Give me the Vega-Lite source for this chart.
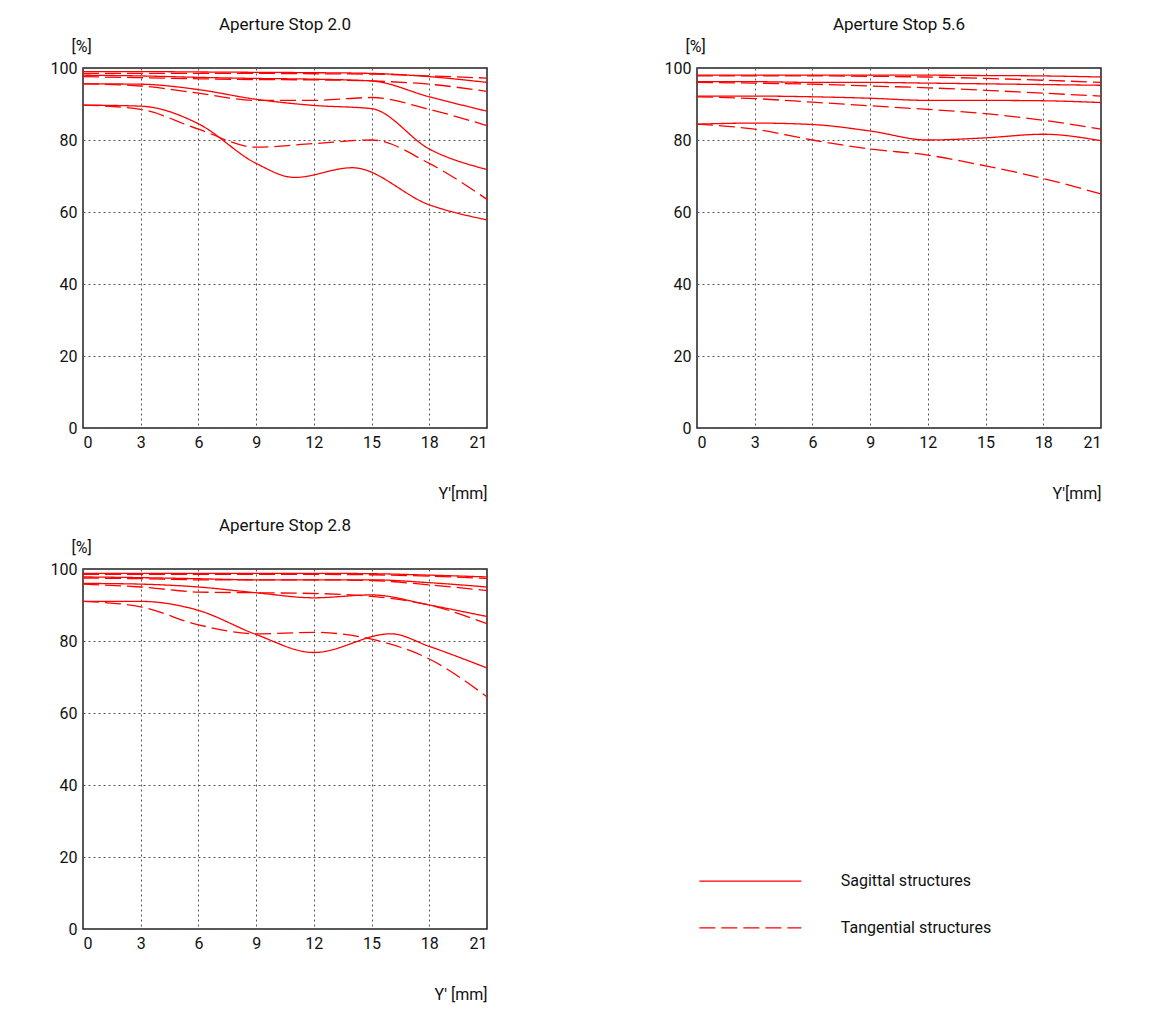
{
  "$schema": "https://vega.github.io/schema/vega-lite/v6.json",
  "padding": {"left": 49, "top": 15, "right": 5, "bottom": 5},
  "config": {
    "font": "Roboto",
    "view": {"stroke": "#222", "strokeWidth": 1.5},
    "title": {"fontSize": 17, "fontWeight": "normal", "color": "#111", "offset": 4},
    "axis": {
      "labelFontSize": 16, "labelColor": "#111", "titleFontSize": 16, "titleFontWeight": "normal",
      "titleColor": "#111", "grid": true, "gridColor": "#555", "gridDash": [2, 3], "gridWidth": 1,
      "domain": false, "ticks": false, "labelPadding": 6
    }
  },
  "datasets": {
    "mtf": [
      {"p":1,"c":"A","t":"S","x":0,"y":99},{"p":1,"c":"A","t":"S","x":3,"y":99},{"p":1,"c":"A","t":"S","x":6,"y":98.9},{"p":1,"c":"A","t":"S","x":9,"y":98.8},{"p":1,"c":"A","t":"S","x":12,"y":98.7},{"p":1,"c":"A","t":"S","x":15,"y":98.5},{"p":1,"c":"A","t":"S","x":18,"y":97.6},{"p":1,"c":"A","t":"S","x":21,"y":96},
      {"p":1,"c":"A","t":"T","x":0,"y":98.5},{"p":1,"c":"A","t":"T","x":3,"y":98.5},{"p":1,"c":"A","t":"T","x":6,"y":98.5},{"p":1,"c":"A","t":"T","x":9,"y":98.5},{"p":1,"c":"A","t":"T","x":12,"y":98.4},{"p":1,"c":"A","t":"T","x":15,"y":98.3},{"p":1,"c":"A","t":"T","x":18,"y":97.8},{"p":1,"c":"A","t":"T","x":21,"y":97.2},
      {"p":1,"c":"B","t":"S","x":0,"y":98},{"p":1,"c":"B","t":"S","x":3,"y":97.8},{"p":1,"c":"B","t":"S","x":6,"y":97.4},{"p":1,"c":"B","t":"S","x":9,"y":97.1},{"p":1,"c":"B","t":"S","x":12,"y":96.9},{"p":1,"c":"B","t":"S","x":15,"y":96.4},{"p":1,"c":"B","t":"S","x":18,"y":92},{"p":1,"c":"B","t":"S","x":21,"y":88},
      {"p":1,"c":"B","t":"T","x":0,"y":97.6},{"p":1,"c":"B","t":"T","x":3,"y":97.3},{"p":1,"c":"B","t":"T","x":6,"y":97},{"p":1,"c":"B","t":"T","x":9,"y":96.8},{"p":1,"c":"B","t":"T","x":12,"y":96.7},{"p":1,"c":"B","t":"T","x":15,"y":96.4},{"p":1,"c":"B","t":"T","x":18,"y":95.5},{"p":1,"c":"B","t":"T","x":21,"y":93.5},
      {"p":1,"c":"C","t":"S","x":0,"y":95.6},{"p":1,"c":"C","t":"S","x":3,"y":95.5},{"p":1,"c":"C","t":"S","x":6,"y":94},{"p":1,"c":"C","t":"S","x":9,"y":91.3},{"p":1,"c":"C","t":"S","x":12,"y":89.6},{"p":1,"c":"C","t":"S","x":15,"y":88.7},{"p":1,"c":"C","t":"S","x":18,"y":77.5},{"p":1,"c":"C","t":"S","x":21,"y":71.8},
      {"p":1,"c":"C","t":"T","x":0,"y":95.6},{"p":1,"c":"C","t":"T","x":3,"y":95},{"p":1,"c":"C","t":"T","x":6,"y":93},{"p":1,"c":"C","t":"T","x":9,"y":91},{"p":1,"c":"C","t":"T","x":12,"y":91},{"p":1,"c":"C","t":"T","x":15,"y":91.8},{"p":1,"c":"C","t":"T","x":18,"y":88.5},{"p":1,"c":"C","t":"T","x":21,"y":84},
      {"p":1,"c":"D","t":"S","x":0,"y":89.7},{"p":1,"c":"D","t":"S","x":3,"y":89.4},{"p":1,"c":"D","t":"S","x":6,"y":84.5},{"p":1,"c":"D","t":"S","x":9,"y":73.5},{"p":1,"c":"D","t":"S","x":11,"y":69.6},{"p":1,"c":"D","t":"S","x":14,"y":72.3},{"p":1,"c":"D","t":"S","x":18,"y":62},{"p":1,"c":"D","t":"S","x":21,"y":57.8},
      {"p":1,"c":"D","t":"T","x":0,"y":89.7},{"p":1,"c":"D","t":"T","x":3,"y":88.5},{"p":1,"c":"D","t":"T","x":6,"y":83},{"p":1,"c":"D","t":"T","x":9,"y":78},{"p":1,"c":"D","t":"T","x":12,"y":79},{"p":1,"c":"D","t":"T","x":15,"y":80},{"p":1,"c":"D","t":"T","x":18,"y":73.5},{"p":1,"c":"D","t":"T","x":21,"y":63.5},

      {"p":2,"c":"A","t":"S","x":0,"y":98},{"p":2,"c":"A","t":"S","x":3,"y":98},{"p":2,"c":"A","t":"S","x":6,"y":98},{"p":2,"c":"A","t":"S","x":9,"y":98},{"p":2,"c":"A","t":"S","x":12,"y":98},{"p":2,"c":"A","t":"S","x":15,"y":97.9},{"p":2,"c":"A","t":"S","x":18,"y":97.8},{"p":2,"c":"A","t":"S","x":21,"y":97.5},
      {"p":2,"c":"A","t":"T","x":0,"y":97.8},{"p":2,"c":"A","t":"T","x":3,"y":97.8},{"p":2,"c":"A","t":"T","x":6,"y":97.8},{"p":2,"c":"A","t":"T","x":9,"y":97.7},{"p":2,"c":"A","t":"T","x":12,"y":97.5},{"p":2,"c":"A","t":"T","x":15,"y":97.1},{"p":2,"c":"A","t":"T","x":18,"y":96.6},{"p":2,"c":"A","t":"T","x":21,"y":96},
      {"p":2,"c":"B","t":"S","x":0,"y":96.2},{"p":2,"c":"B","t":"S","x":3,"y":96.2},{"p":2,"c":"B","t":"S","x":6,"y":96},{"p":2,"c":"B","t":"S","x":9,"y":96},{"p":2,"c":"B","t":"S","x":12,"y":95.8},{"p":2,"c":"B","t":"S","x":15,"y":95.6},{"p":2,"c":"B","t":"S","x":18,"y":95.4},{"p":2,"c":"B","t":"S","x":21,"y":95.2},
      {"p":2,"c":"B","t":"T","x":0,"y":96},{"p":2,"c":"B","t":"T","x":3,"y":95.8},{"p":2,"c":"B","t":"T","x":6,"y":95.5},{"p":2,"c":"B","t":"T","x":9,"y":95},{"p":2,"c":"B","t":"T","x":12,"y":94.5},{"p":2,"c":"B","t":"T","x":15,"y":93.8},{"p":2,"c":"B","t":"T","x":18,"y":93},{"p":2,"c":"B","t":"T","x":21,"y":92.2},
      {"p":2,"c":"C","t":"S","x":0,"y":92.2},{"p":2,"c":"C","t":"S","x":3,"y":92.2},{"p":2,"c":"C","t":"S","x":6,"y":92},{"p":2,"c":"C","t":"S","x":9,"y":91.6},{"p":2,"c":"C","t":"S","x":12,"y":91},{"p":2,"c":"C","t":"S","x":15,"y":91},{"p":2,"c":"C","t":"S","x":18,"y":90.9},{"p":2,"c":"C","t":"S","x":21,"y":90.4},
      {"p":2,"c":"C","t":"T","x":0,"y":92},{"p":2,"c":"C","t":"T","x":3,"y":91.5},{"p":2,"c":"C","t":"T","x":6,"y":90.5},{"p":2,"c":"C","t":"T","x":9,"y":89.5},{"p":2,"c":"C","t":"T","x":12,"y":88.5},{"p":2,"c":"C","t":"T","x":15,"y":87.3},{"p":2,"c":"C","t":"T","x":18,"y":85.5},{"p":2,"c":"C","t":"T","x":21,"y":83},
      {"p":2,"c":"D","t":"S","x":0,"y":84.4},{"p":2,"c":"D","t":"S","x":3,"y":84.7},{"p":2,"c":"D","t":"S","x":6,"y":84.3},{"p":2,"c":"D","t":"S","x":9,"y":82.5},{"p":2,"c":"D","t":"S","x":12,"y":80},{"p":2,"c":"D","t":"S","x":15,"y":80.6},{"p":2,"c":"D","t":"S","x":18,"y":81.6},{"p":2,"c":"D","t":"S","x":21,"y":79.8},
      {"p":2,"c":"D","t":"T","x":0,"y":84.4},{"p":2,"c":"D","t":"T","x":3,"y":83},{"p":2,"c":"D","t":"T","x":6,"y":80},{"p":2,"c":"D","t":"T","x":9,"y":77.5},{"p":2,"c":"D","t":"T","x":12,"y":75.8},{"p":2,"c":"D","t":"T","x":15,"y":72.8},{"p":2,"c":"D","t":"T","x":18,"y":69.3},{"p":2,"c":"D","t":"T","x":21,"y":65},

      {"p":3,"c":"A","t":"S","x":0,"y":98.8},{"p":3,"c":"A","t":"S","x":3,"y":98.8},{"p":3,"c":"A","t":"S","x":6,"y":98.8},{"p":3,"c":"A","t":"S","x":9,"y":98.8},{"p":3,"c":"A","t":"S","x":12,"y":98.8},{"p":3,"c":"A","t":"S","x":15,"y":98.7},{"p":3,"c":"A","t":"S","x":18,"y":98.3},{"p":3,"c":"A","t":"S","x":21,"y":97.8},
      {"p":3,"c":"A","t":"T","x":0,"y":98.5},{"p":3,"c":"A","t":"T","x":3,"y":98.5},{"p":3,"c":"A","t":"T","x":6,"y":98.5},{"p":3,"c":"A","t":"T","x":9,"y":98.5},{"p":3,"c":"A","t":"T","x":12,"y":98.5},{"p":3,"c":"A","t":"T","x":15,"y":98.4},{"p":3,"c":"A","t":"T","x":18,"y":98},{"p":3,"c":"A","t":"T","x":21,"y":97.4},
      {"p":3,"c":"B","t":"S","x":0,"y":97.8},{"p":3,"c":"B","t":"S","x":3,"y":97.6},{"p":3,"c":"B","t":"S","x":6,"y":97.3},{"p":3,"c":"B","t":"S","x":9,"y":97},{"p":3,"c":"B","t":"S","x":12,"y":97},{"p":3,"c":"B","t":"S","x":15,"y":97},{"p":3,"c":"B","t":"S","x":18,"y":96.2},{"p":3,"c":"B","t":"S","x":21,"y":95},
      {"p":3,"c":"B","t":"T","x":0,"y":97.5},{"p":3,"c":"B","t":"T","x":3,"y":97.3},{"p":3,"c":"B","t":"T","x":6,"y":97},{"p":3,"c":"B","t":"T","x":9,"y":97},{"p":3,"c":"B","t":"T","x":12,"y":97},{"p":3,"c":"B","t":"T","x":15,"y":96.8},{"p":3,"c":"B","t":"T","x":18,"y":95.6},{"p":3,"c":"B","t":"T","x":21,"y":94},
      {"p":3,"c":"C","t":"S","x":0,"y":96},{"p":3,"c":"C","t":"S","x":3,"y":95.8},{"p":3,"c":"C","t":"S","x":6,"y":95},{"p":3,"c":"C","t":"S","x":9,"y":93.4},{"p":3,"c":"C","t":"S","x":12,"y":92},{"p":3,"c":"C","t":"S","x":15,"y":92.8},{"p":3,"c":"C","t":"S","x":18,"y":90},{"p":3,"c":"C","t":"S","x":21,"y":86.8},
      {"p":3,"c":"C","t":"T","x":0,"y":95.8},{"p":3,"c":"C","t":"T","x":3,"y":95},{"p":3,"c":"C","t":"T","x":6,"y":93.6},{"p":3,"c":"C","t":"T","x":9,"y":93.4},{"p":3,"c":"C","t":"T","x":12,"y":93.2},{"p":3,"c":"C","t":"T","x":15,"y":92.4},{"p":3,"c":"C","t":"T","x":18,"y":90},{"p":3,"c":"C","t":"T","x":21,"y":84.8},
      {"p":3,"c":"D","t":"S","x":0,"y":91},{"p":3,"c":"D","t":"S","x":3,"y":91},{"p":3,"c":"D","t":"S","x":6,"y":88.5},{"p":3,"c":"D","t":"S","x":9,"y":81.8},{"p":3,"c":"D","t":"S","x":12,"y":76.8},{"p":3,"c":"D","t":"S","x":16,"y":82},{"p":3,"c":"D","t":"S","x":18,"y":78.5},{"p":3,"c":"D","t":"S","x":21,"y":72.5},
      {"p":3,"c":"D","t":"T","x":0,"y":91},{"p":3,"c":"D","t":"T","x":3,"y":89.5},{"p":3,"c":"D","t":"T","x":6,"y":84.5},{"p":3,"c":"D","t":"T","x":9,"y":82},{"p":3,"c":"D","t":"T","x":12,"y":82.4},{"p":3,"c":"D","t":"T","x":15,"y":80.5},{"p":3,"c":"D","t":"T","x":18,"y":75},{"p":3,"c":"D","t":"T","x":21,"y":64.5}
    ],
    "legend": [
      {"t": "S", "label": "Sagittal structures", "x": 0.36, "x2": 1.37, "lx": 1.76, "y": 13.3},
      {"t": "T", "label": "Tangential structures", "x": 0.36, "x2": 1.37, "lx": 1.76, "y": 0.3}
    ]
  },
  "vconcat": [
    {
      "hconcat": [
        {
          "title": "Aperture Stop 2.0",
          "width": 404, "height": 360,
          "data": {"name": "mtf"},
          "transform": [{"filter": "datum.p == 1"}],
          "mark": {"type": "line", "color": "red", "strokeWidth": 1.3, "interpolate": "monotone"},
          "encoding": {
            "x": {"field": "x", "type": "quantitative", "scale": {"domain": [0, 21], "nice": false},
                  "axis": {"values": [0,3,6,9,12,15,18,21], "title": "Y'[mm]", "titleAnchor": "end", "titlePadding": 35}},
            "y": {"field": "y", "type": "quantitative", "scale": {"domain": [0, 100]},
                  "axis": {"values": [0,20,40,60,80,100], "title": "[%]", "titleAngle": 0, "titleAnchor": "end", "titleAlign": "left", "titleX": -12, "titleY": -14}},
            "detail": {"field": "c"},
            "strokeDash": {"field": "t", "type": "nominal", "scale": {"domain": ["S","T"], "range": [[1,0],[16,6]]}, "legend": null}
          }
        },
        {
          "title": "Aperture Stop 5.6",
          "width": 404, "height": 360,
          "data": {"name": "mtf"},
          "transform": [{"filter": "datum.p == 2"}],
          "mark": {"type": "line", "color": "red", "strokeWidth": 1.3, "interpolate": "monotone"},
          "encoding": {
            "x": {"field": "x", "type": "quantitative", "scale": {"domain": [0, 21], "nice": false},
                  "axis": {"values": [0,3,6,9,12,15,18,21], "title": "Y'[mm]", "titleAnchor": "end", "titlePadding": 35}},
            "y": {"field": "y", "type": "quantitative", "scale": {"domain": [0, 100]},
                  "axis": {"values": [0,20,40,60,80,100], "title": "[%]", "titleAngle": 0, "titleAnchor": "end", "titleAlign": "left", "titleX": -12, "titleY": -14}},
            "detail": {"field": "c"},
            "strokeDash": {"field": "t", "type": "nominal", "scale": {"domain": ["S","T"], "range": [[1,0],[16,6]]}, "legend": null}
          }
        }
      ],
      "spacing": 172
    },
    {
      "hconcat": [
        {
          "title": "Aperture Stop 2.8",
          "width": 404, "height": 360,
          "data": {"name": "mtf"},
          "transform": [{"filter": "datum.p == 3"}],
          "mark": {"type": "line", "color": "red", "strokeWidth": 1.3, "interpolate": "monotone"},
          "encoding": {
            "x": {"field": "x", "type": "quantitative", "scale": {"domain": [0, 21], "nice": false},
                  "axis": {"values": [0,3,6,9,12,15,18,21], "title": "Y' [mm]", "titleAnchor": "end", "titlePadding": 35}},
            "y": {"field": "y", "type": "quantitative", "scale": {"domain": [0, 100]},
                  "axis": {"values": [0,20,40,60,80,100], "title": "[%]", "titleAngle": 0, "titleAnchor": "end", "titleAlign": "left", "titleX": -12, "titleY": -14}},
            "detail": {"field": "c"},
            "strokeDash": {"field": "t", "type": "nominal", "scale": {"domain": ["S","T"], "range": [[1,0],[16,6]]}, "legend": null}
          }
        },
        {
          "width": 404, "height": 360,
          "view": {"stroke": null},
          "data": {"name": "legend"},
          "layer": [
            {
              "mark": {"type": "rule", "color": "red", "strokeWidth": 1.2},
              "encoding": {
                "x": {"field": "x", "type": "quantitative", "scale": {"domain": [0, 4]}, "axis": null},
                "x2": {"field": "x2"},
                "y": {"field": "y", "type": "quantitative", "scale": {"domain": [0, 100]}, "axis": null},
                "strokeDash": {"field": "t", "type": "nominal", "scale": {"domain": ["S","T"], "range": [[1,0],[5,3]]}, "legend": null}
              }
            },
            {
              "mark": {"type": "text", "align": "left", "baseline": "middle", "fontSize": 16, "color": "#111"},
              "encoding": {
                "x": {"field": "lx", "type": "quantitative"},
                "y": {"field": "y", "type": "quantitative"},
                "text": {"field": "label"}
              }
            }
          ]
        }
      ],
      "spacing": 172
    }
  ],
  "spacing": 14
}
